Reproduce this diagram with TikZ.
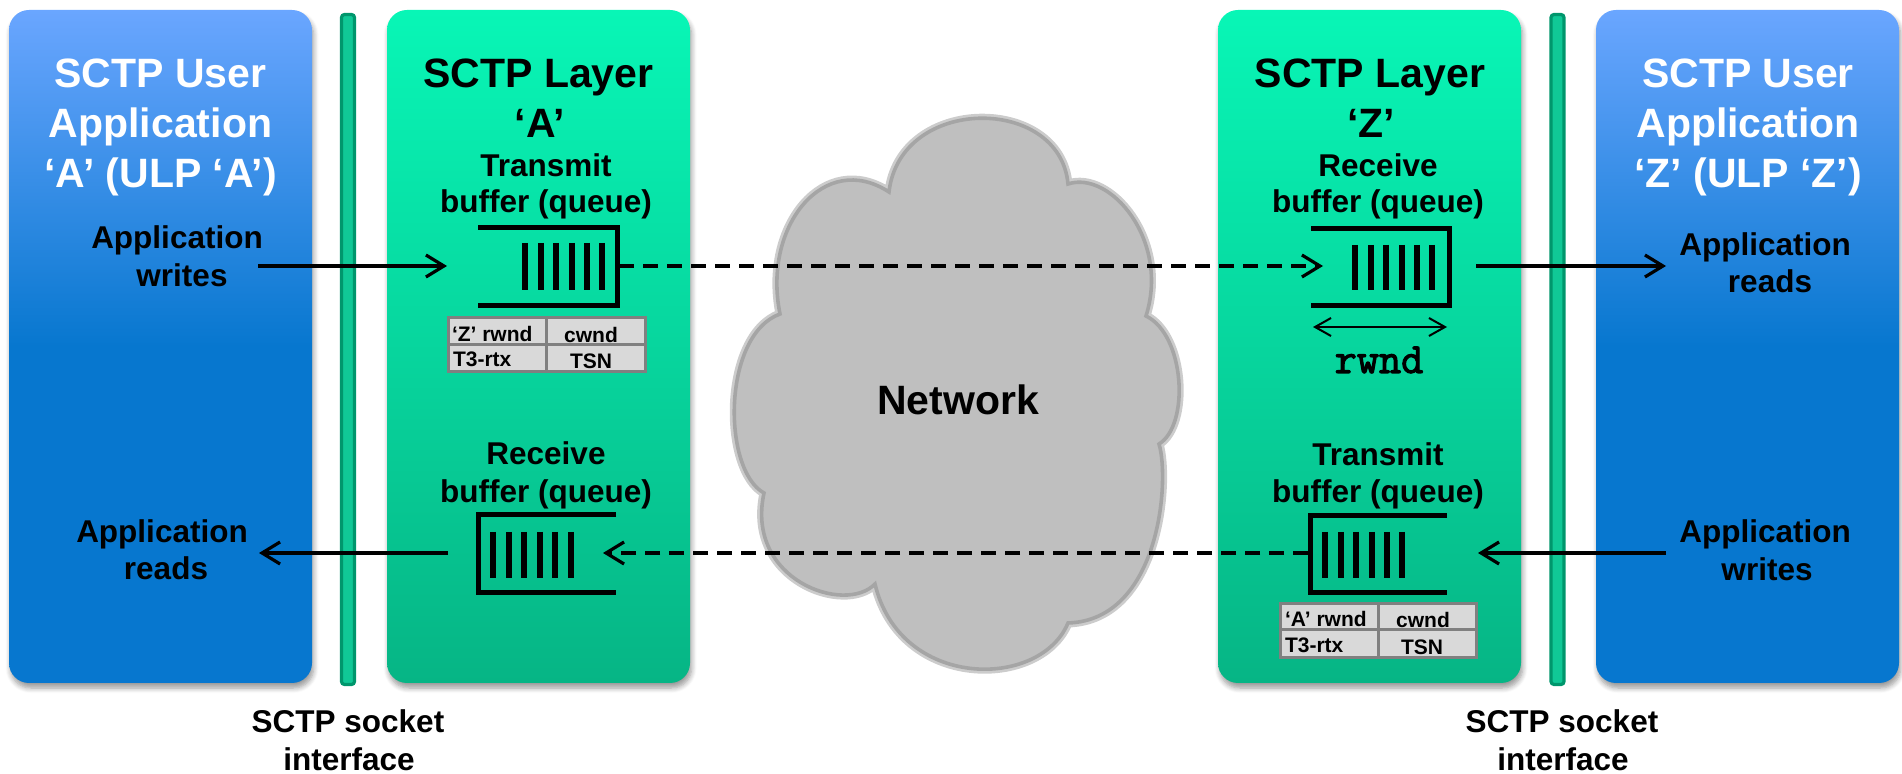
\documentclass[tikz,border=0pt]{standalone}
\usepackage{fontspec}
\setmainfont{Liberation Sans}
\newfontfamily\rwndfont{Latin Modern Mono}[FakeBold=2.5]
\usetikzlibrary{arrows.meta,shadows.blur}

\definecolor{blueTop}{RGB}{106,166,255}
\definecolor{blueBot}{RGB}{7,119,207}
\definecolor{grnTop}{RGB}{8,246,182}
\definecolor{grnBot}{RGB}{6,181,133}
\definecolor{barFill}{RGB}{16,200,150}
\definecolor{barEdge}{RGB}{0,150,108}
\definecolor{cloudFill}{RGB}{191,191,191}
\definecolor{cloudEdge}{RGB}{165,165,165}
\definecolor{tblFill}{RGB}{217,217,217}
\definecolor{tblEdge}{RGB}{128,128,128}

\pgfdeclareverticalshading{bluepanel}{100bp}{color(0bp)=(blueBot); color(25bp)=(blueBot); color(50bp)=(blueBot); color(75bp)=(blueTop); color(100bp)=(blueTop)}

\begin{document}
\begin{tikzpicture}[x=0.5pt,y=-0.5pt,
  every node/.style={inner sep=0pt, outer sep=0pt},
  panelshadow/.style={blur shadow={shadow xshift=0.8pt, shadow yshift=-2.5pt, shadow blur steps=6, shadow blur radius=2.5pt, shadow opacity=40}},
  ulp/.style={rectangle, rounded corners=10pt, minimum width=151.5pt, minimum height=336.5pt, shade, shading=bluepanel, panelshadow},
  layer/.style={rectangle, rounded corners=10pt, minimum width=151.5pt, minimum height=336.5pt, top color=grnTop, bottom color=grnBot, panelshadow},
  sockbar/.style={rectangle, rounded corners=1.5pt, minimum width=6.5pt, minimum height=335pt, fill=barFill, draw=barEdge, line width=1.6pt},
  ttl/.style={font=\fontsize{20.5}{24}\selectfont\bfseries, anchor=base},
  lbl/.style={font=\fontsize{15.75}{18}\selectfont\bfseries, anchor=base},
  tbl/.style={font=\fontsize{10.5}{12}\selectfont\bfseries, anchor=base},
  qline/.style={line width=2.5pt},
  qbar/.style={line width=3pt},
  tblbox/.style={fill=tblFill, draw=tblEdge, line width=1.5pt},
  arr/.style={line width=1.6pt, -{Straight Barb[length=9pt,width=11pt]}},
  darr/.style={arr, dash pattern=on 7.5pt off 4.5pt},
  rarr/.style={line width=1pt, {Straight Barb[length=8pt,width=9pt]}-{Straight Barb[length=8pt,width=9pt]}},
  cloudstyle/.style={fill=cloudFill, draw=cloudEdge, line width=1.8pt, preaction={draw=black!20, line width=4.5pt}}
]
\useasboundingbox (0,0) rectangle (1902,774);

% panels
\node[ulp] (ulpA) at (160.5,346.5) {};
\node[layer] (layA) at (538.5,346.5) {};
\node[layer] (layZ) at (1369.5,346.5) {};
\node[ulp] (ulpZ) at (1747.5,346.5) {};
\node[sockbar] (barA) at (348,349.5) {};
\node[sockbar] (barZ) at (1557.5,349.5) {};

% cloud
\path[cloudstyle] (780,314) .. controls (762,225) and (825,150) .. (889,192)
  .. controls (900,95) and (1060,95) .. (1068,184)
  .. controls (1110,170) and (1170,240) .. (1146,316)
  .. controls (1185,335) and (1190,425) .. (1159,444)
  .. controls (1170,480) and (1160,620) .. (1068,623)
  .. controls (1040,690) and (900,690) .. (875,584)
  .. controls (845,615) and (745,580) .. (764,493)
  .. controls (722,470) and (722,335) .. (780,314) -- cycle;
\node[ttl] (net) at (958,415) {Network};

% titles
\node[ttl, text=white] (ulpA1) at (160.5,88) {SCTP User};
\node[ttl, text=white] (ulpA2) at (160.5,138) {Application};
\node[ttl, text=white] (ulpA3) at (160.5,188) {‘A’ (ULP ‘A’)};
\node[ttl, text=white] (ulpZ1) at (1748,88) {SCTP User};
\node[ttl, text=white] (ulpZ2) at (1748,138) {Application};
\node[ttl, text=white] (ulpZ3) at (1748,188) {‘Z’ (ULP ‘Z’)};
\node[ttl] (layA1) at (538.5,88) {SCTP Layer};
\node[ttl] (layA2) at (540,138) {‘A’};
\node[ttl] (layZ1) at (1370,88) {SCTP Layer};
\node[ttl] (layZ2) at (1371,138) {‘Z’};

% buffer labels
\node[lbl] (txA1) at (546,177) {Transmit};
\node[lbl] (txA2) at (546,213) {buffer (queue)};
\node[lbl] (rxA1) at (546,465) {Receive};
\node[lbl] (rxA2) at (546,503) {buffer (queue)};
\node[lbl] (rxZ1) at (1378,177) {Receive};
\node[lbl] (rxZ2) at (1378,213) {buffer (queue)};
\node[lbl] (txZ1) at (1378,466) {Transmit};
\node[lbl] (txZ2) at (1378,503) {buffer (queue)};

% application labels
\node[lbl] (awA1) at (177,249) {Application};
\node[lbl] (awA2) at (182,287) {writes};
\node[lbl] (arA1) at (162,543) {Application};
\node[lbl] (arA2) at (166,580) {reads};
\node[lbl] (arZ1) at (1765,256) {Application};
\node[lbl] (arZ2) at (1770,293) {reads};
\node[lbl] (awZ1) at (1765,543) {Application};
\node[lbl] (awZ2) at (1767,581) {writes};

% socket labels
\node[lbl] (sockA1) at (348,733) {SCTP socket};
\node[lbl] (sockA2) at (349,770) {interface};
\node[lbl] (sockZ1) at (1562,733) {SCTP socket};
\node[lbl] (sockZ2) at (1563,770) {interface};

% queues
\draw[qline] (478,228) -- (617,228) -- (617,306) -- (478,306);
\foreach \x in {525,540.5,556,571.5,587,602} \draw[qbar] (\x,243) -- (\x,290);
\draw[qline] (616,515) -- (478,515) -- (478,593) -- (616,593);
\foreach \x in {493,508.5,524,539.5,555,571} \draw[qbar] (\x,532) -- (\x,578);
\draw[qline] (1311,229) -- (1449,229) -- (1449,306) -- (1311,306);
\foreach \x in {1355,1370.5,1386,1401.5,1417,1432} \draw[qbar] (\x,245) -- (\x,290);
\draw[qline] (1447,516) -- (1310,516) -- (1310,593) -- (1447,593);
\foreach \x in {1325,1340.5,1356,1371.5,1387,1402} \draw[qbar] (\x,532) -- (\x,578);

% tables
\draw[tblbox] (448,318) rectangle (645,372);
\draw[tblEdge, line width=1.5pt] (448,345) -- (645,345) (546,318) -- (546,372);
\node[tbl, anchor=base west] (tA1) at (452,342) {‘Z’ rwnd};
\node[tbl, anchor=base west] (tA2) at (453,367) {T3-rtx};
\node[tbl] (tA3) at (591,343) {cwnd};
\node[tbl] (tA4) at (591,369) {TSN};
\draw[tblbox] (1280,604) rectangle (1476,658);
\draw[tblEdge, line width=1.5pt] (1280,630) -- (1476,630) (1378,604) -- (1378,658);
\node[tbl, anchor=base west] (tZ1) at (1285,627) {‘A’ rwnd};
\node[tbl, anchor=base west] (tZ2) at (1285,653) {T3-rtx};
\node[tbl] (tZ3) at (1423,628) {cwnd};
\node[tbl] (tZ4) at (1422,655) {TSN};

% rwnd
\coordinate (rwL) at (1313,327);
\coordinate (rwR) at (1447,327);
\draw[rarr] (rwL) -- (rwR);
\node[anchor=base, font=\fontsize{21.5}{24}\selectfont\rwndfont] (rw) at (1379,373) {rwnd};

% connectors
\coordinate (wAs) at (258,266);
\coordinate (wAe) at (447,266);
\coordinate (dTs) at (619,266);
\coordinate (dTe) at (1323,266);
\coordinate (rZs) at (1476,266);
\coordinate (rZe) at (1666,266);
\coordinate (wZs) at (1666,553);
\coordinate (wZe) at (1478,553);
\coordinate (dBs) at (1308,553);
\coordinate (dBe) at (603,553);
\coordinate (rAs) at (448,553);
\coordinate (rAe) at (259,553);
\draw[arr] (wAs) -- (wAe);
\draw[darr] (dTs) -- (dTe);
\draw[arr] (rZs) -- (rZe);
\draw[arr] (wZs) -- (wZe);
\draw[darr] (dBs) -- (dBe);
\draw[arr] (rAs) -- (rAe);
\end{tikzpicture}
\end{document}
